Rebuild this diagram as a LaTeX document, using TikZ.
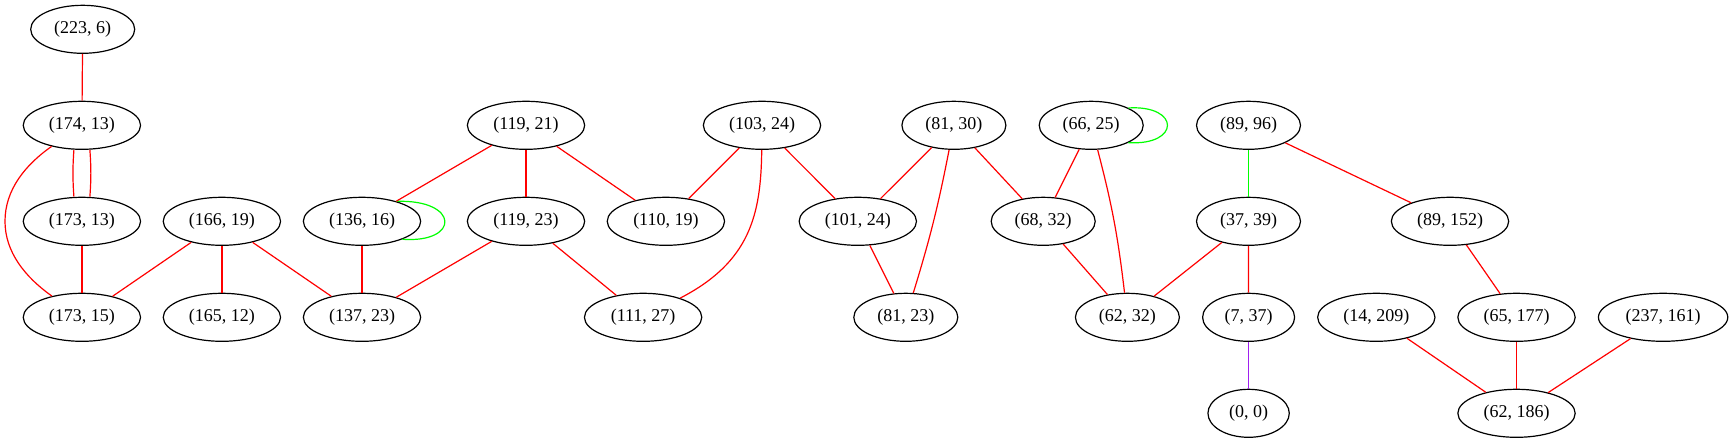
\documentclass[tikz,border=0pt]{standalone}
\usepackage{fontspec}
\setmainfont{Liberation Serif}
\usetikzlibrary{shapes.geometric}
\definecolor{gvred}{RGB}{255,0,0}
\definecolor{gvgreen}{RGB}{0,255,0}
\definecolor{gvpurple}{RGB}{160,32,240}
\begin{document}
\begin{tikzpicture}[x=0.75pt,y=-0.75pt,
  gnode/.style={ellipse,draw=black,line width=0.9pt,minimum height=36pt,inner sep=0pt,
    font=\fontsize{13.5}{16}\selectfont},
  wii/.style={gnode,minimum width=61pt},
  wiii/.style={gnode,minimum width=69pt},
  wiv/.style={gnode,minimum width=78pt},
  wv/.style={gnode,minimum width=88pt},
  wvi/.style={gnode,minimum width=97pt},
  redge/.style={draw=gvred,line width=0.9pt},
  gedge/.style={draw=gvgreen,line width=0.9pt},
  pedge/.style={draw=gvpurple,line width=0.9pt}]
\useasboundingbox (0,0) rectangle (1733,443);
\node[wiv] (a2236) at (82.7,29.3) {(223, 6)};
\node[wv] (a17413) at (81.9,125.3) {(174, 13)};
\node[wv] (a17313) at (81.9,221.3) {(173, 13)};
\node[wv] (a17315) at (81.9,317.3) {(173, 15)};
\node[wv] (a16619) at (221.9,221.3) {(166, 19)};
\node[wv] (a16512) at (221.9,317.3) {(165, 12)};
\node[wv] (a13616) at (362,221.3) {(136, 16)};
\node[wv] (a13723) at (362,317.3) {(137, 23)};
\node[wv] (a11921) at (526,125.3) {(119, 21)};
\node[wv] (a11923) at (526,221.3) {(119, 23)};
\node[wv] (a10324) at (762,125.3) {(103, 24)};
\node[wv] (a11019) at (665.9,221.3) {(110, 19)};
\node[wv] (a11127) at (643.1,317.3) {(111, 27)};
\node[wv] (a10124) at (857.8,221.3) {(101, 24)};
\node[wiv] (a8130) at (953.9,125.3) {(81, 30)};
\node[wiv] (a8123) at (905.8,317.3) {(81, 23)};
\node[wiv] (a6625) at (1091.2,125.3) {(66, 25)};
\node[wiv] (a6832) at (1043.2,221.3) {(68, 32)};
\node[wiv] (a6232) at (1127.4,317.3) {(62, 32)};
\node[wiv] (a8996) at (1248.5,125.3) {(89, 96)};
\node[wiv] (a3739) at (1248.5,221.3) {(37, 39)};
\node[wv] (a89152) at (1450,221.3) {(89, 152)};
\node[wiii] (a737) at (1248.6,317.3) {(7, 37)};
\node[wii] (a00) at (1248.6,413.3) {(0, 0)};
\node[wv] (a14209) at (1376.3,317.3) {(14, 209)};
\node[wv] (a65177) at (1516.5,317.3) {(65, 177)};
\node[wvi] (a237161) at (1663.1,317.3) {(237, 161)};
\node[wv] (a62186) at (1516.5,413.3) {(62, 186)};
\coordinate (bulge) at (5,221.3);
% edges
\draw[redge] (a2236) -- (a17413);
\draw[redge] ([xshift=-6pt]a17413.south) to[bend right=4] ([xshift=-6pt]a17313.north);
\draw[redge] ([xshift=6pt]a17413.south) to[bend left=4] ([xshift=6pt]a17313.north);
\draw[redge] (a17413) .. controls (25,165) and (5,190) .. (bulge) .. controls (5,252) and (25,277) .. (a17315);
\draw[redge] (a17313) -- (a17315);
\draw[redge] (a16619) -- (a17315);
\draw[redge] (a16619) -- (a16512);
\draw[redge] (a16619) -- (a13723);
\draw[gedge] (a13616.30) .. controls +(63,-2) and +(58,4) .. (a13616.-24);
\draw[redge] (a13616) -- (a13723);
\draw[redge] (a11921) -- (a13616);
\draw[redge] (a11921) -- (a11923);
\draw[redge] (a11921) -- (a11019);
\draw[redge] (a11923) -- (a13723);
\draw[redge] (a11923) -- (a11127);
\draw[redge] (a10324) -- (a11019);
\draw[redge] (a10324) -- (a10124);
\draw[redge] (a10324) .. controls (761,215) and (750,262) .. (a11127);
\draw[redge] (a8130) -- (a10124);
\draw[redge] (a8130) to[bend left=3] (a8123);
\draw[redge] (a8130) -- (a6832);
\draw[redge] (a10124) -- (a8123);
\draw[gedge] (a6625.25) .. controls +(52,-3) and +(52,3) .. (a6625.-25);
\draw[redge] (a6625) -- (a6832);
\draw[redge] (a6625) to[bend left=4] (a6232);
\draw[redge] (a6832) -- (a6232);
\draw[gedge] (a8996) -- (a3739);
\draw[redge] (a8996) -- (a89152);
\draw[redge] (a3739) -- (a6232);
\draw[redge] (a3739) -- (a737);
\draw[pedge] (a737) -- (a00);
\draw[redge] (a89152) -- (a65177);
\draw[redge] (a14209) -- (a62186);
\draw[redge] (a65177) -- (a62186);
\draw[redge] (a237161) -- (a62186);
\end{tikzpicture}
\end{document}
